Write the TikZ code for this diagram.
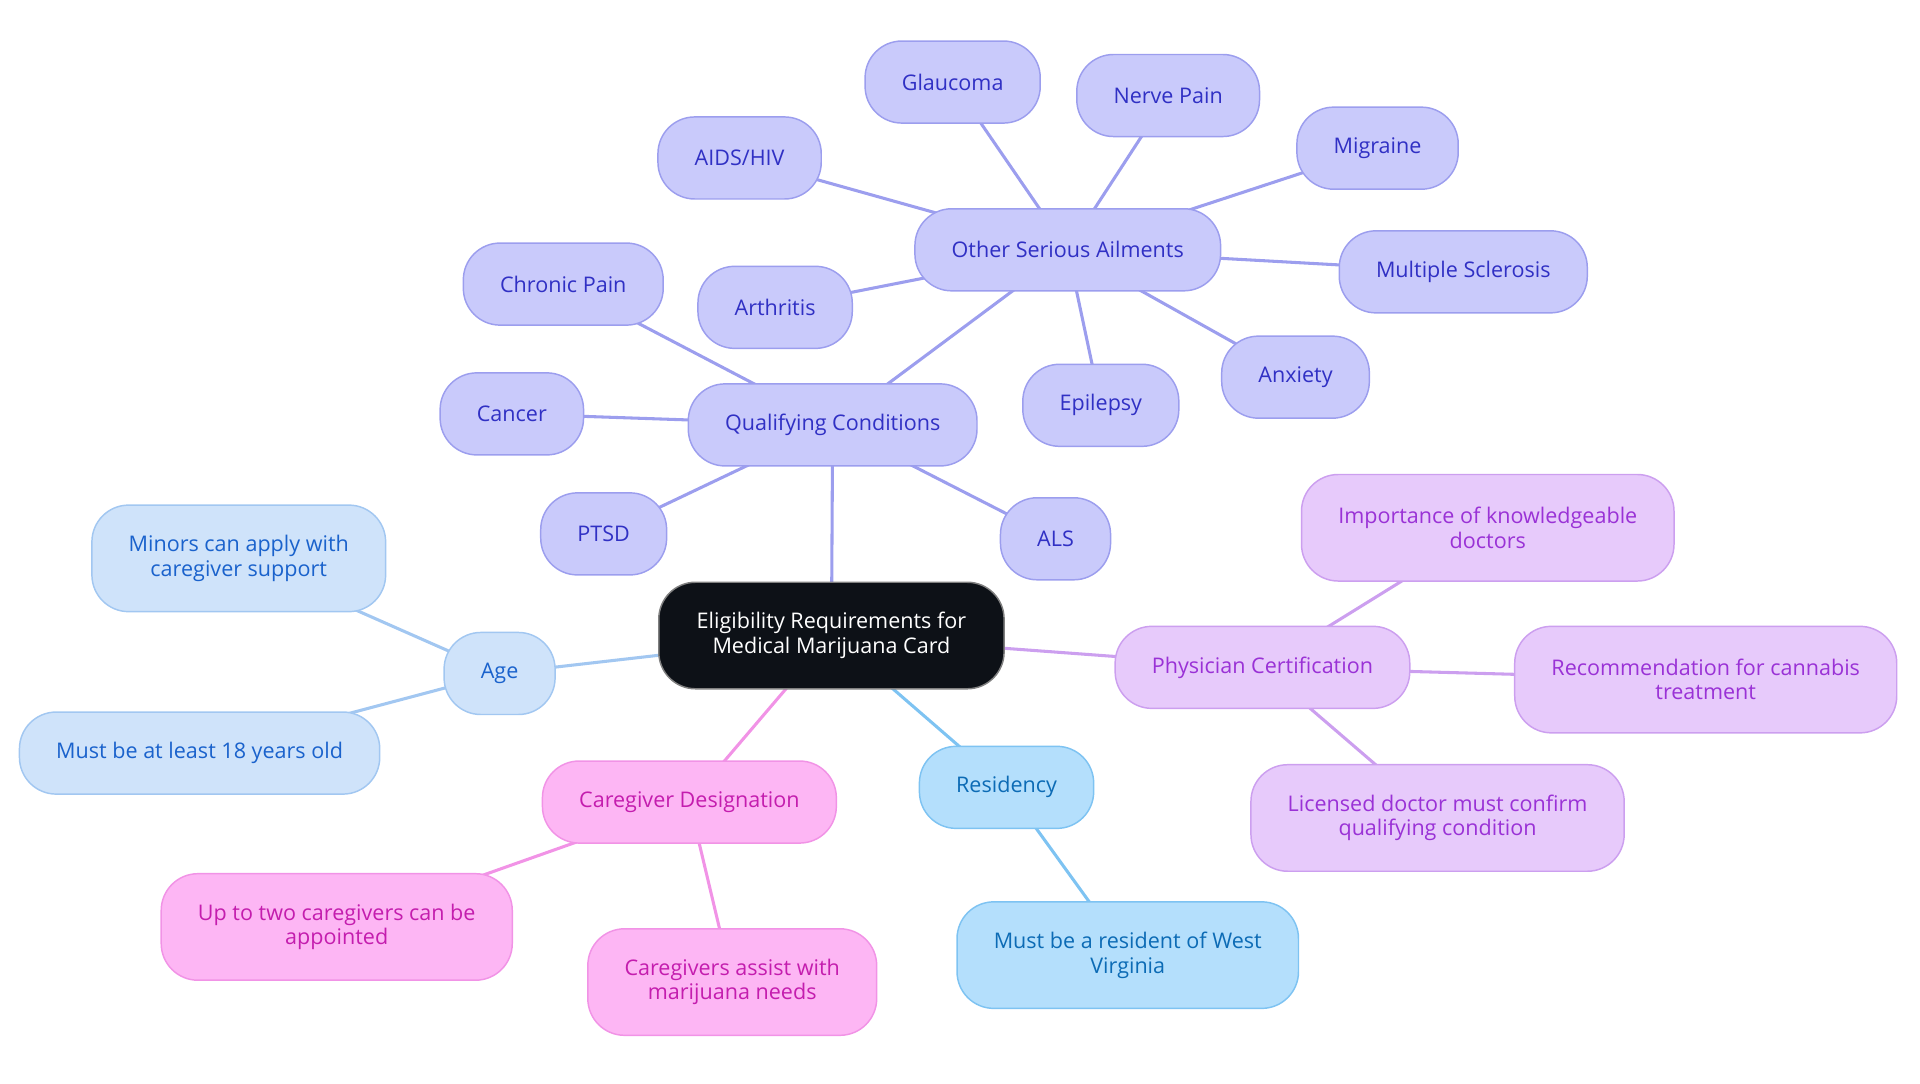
\documentclass[tikz,border=0pt]{standalone}
\usepackage{fontspec}
\setmainfont{Open Sans}
\usepackage{xcolor}
\usetikzlibrary{backgrounds}

\definecolor{qfill}{HTML}{C9CAFB}
\definecolor{qdraw}{HTML}{9C9EEE}
\definecolor{qtext}{HTML}{3030C4}
\definecolor{afill}{HTML}{CFE3FA}
\definecolor{adraw}{HTML}{A2C7F1}
\definecolor{atext}{HTML}{1A62CC}
\definecolor{pfill}{HTML}{E7CAFB}
\definecolor{pdraw}{HTML}{CC9FEF}
\definecolor{ptext}{HTML}{9A32D6}
\definecolor{cfill}{HTML}{FDB6F4}
\definecolor{cdraw}{HTML}{F193E6}
\definecolor{ctext}{HTML}{C41DAE}
\definecolor{rfill}{HTML}{B4DFFC}
\definecolor{rdraw}{HTML}{7EC3F2}
\definecolor{rtext}{HTML}{0C6BB5}
\definecolor{rootfill}{HTML}{0D1117}

\begin{document}
\begin{tikzpicture}[x=1pt, y=-1pt,
  box/.style={rounded corners=30, draw, line width=1.2, minimum height=67,
    inner xsep=30, align=center, font=\fontsize{17.6}{20}\selectfont},
  twoline/.style={minimum height=87},
  qbox/.style={box, fill=qfill, draw=qdraw, text=qtext},
  abox/.style={box, fill=afill, draw=adraw, text=atext},
  pbox/.style={box, fill=pfill, draw=pdraw, text=ptext},
  cbox/.style={box, fill=cfill, draw=cdraw, text=ctext},
  rbox/.style={box, fill=rfill, draw=rdraw, text=rtext},
  link/.style={line width=2.5}]
\useasboundingbox (0,0) rectangle (1568,884.5);

% root
\node[box, twoline, fill=rootfill, draw=gray, text=white, inner xsep=0, minimum width=282] (root) at (679,519)
  {Eligibility Requirements for\\Medical Marijuana Card};

% qualifying conditions
\node[qbox] (qual) at (680,347) {Qualifying Conditions};
\node[qbox] (other) at (872,204) {Other Serious Ailments};
\node[qbox] (glau) at (778,67) {Glaucoma};
\node[qbox] (nerve) at (954,78) {Nerve Pain};
\node[qbox] (migr) at (1125,121) {Migraine};
\node[qbox] (aids) at (604,129) {AIDS/HIV};
\node[qbox] (ms) at (1195,222) {Multiple Sclerosis};
\node[qbox] (arth) at (633,251) {Arthritis};
\node[qbox] (anx) at (1058,308) {Anxiety};
\node[qbox] (epil) at (899,331) {Epilepsy};
\node[qbox] (chron) at (460,232) {Chronic Pain};
\node[qbox] (canc) at (418,338) {Cancer};
\node[qbox] (ptsd) at (493,436) {PTSD};
\node[qbox] (als) at (862,440) {ALS};

% age
\node[abox] (age) at (408,550) {Age};
\node[abox, twoline] (minor) at (195,456) {Minors can apply with\\caregiver support};
\node[abox] (least) at (163,615) {Must be at least 18 years old};

% physician
\node[pbox] (phys) at (1031,545) {Physician Certification};
\node[pbox, twoline] (know) at (1215,431) {Importance of knowledgeable\\doctors};
\node[pbox, twoline] (recom) at (1393,555) {Recommendation for cannabis\\treatment};
\node[pbox, twoline] (lic) at (1174,668) {Licensed doctor must confirm\\qualifying condition};

% caregiver
\node[cbox] (care) at (563,655) {Caregiver Designation};
\node[cbox, twoline] (two) at (275,757) {Up to two caregivers can be\\appointed};
\node[cbox, twoline] (assist) at (598,802) {Caregivers assist with\\marijuana needs};

% residency
\node[rbox] (res) at (822,643) {Residency};
\node[rbox, twoline] (wv) at (921,780) {Must be a resident of West\\Virginia};

\begin{scope}[on background layer]
\draw[link, qdraw] (root.center) -- (qual.center);
\foreach \n in {other, chron, canc, ptsd, als}
  \draw[link, qdraw] (qual.center) -- (\n.center);
\foreach \n in {glau, nerve, migr, aids, ms, arth, anx, epil}
  \draw[link, qdraw] (other.center) -- (\n.center);
\draw[link, adraw] (root.center) -- (age.center);
\foreach \n in {minor, least}
  \draw[link, adraw] (age.center) -- (\n.center);
\draw[link, pdraw] (root.center) -- (phys.center);
\foreach \n in {know, recom, lic}
  \draw[link, pdraw] (phys.center) -- (\n.center);
\draw[link, cdraw] (root.center) -- (care.center);
\foreach \n in {two, assist}
  \draw[link, cdraw] (care.center) -- (\n.center);
\draw[link, rdraw] (root.center) -- (res.center);
\draw[link, rdraw] (res.center) -- (wv.center);
\end{scope}
\end{tikzpicture}
\end{document}
